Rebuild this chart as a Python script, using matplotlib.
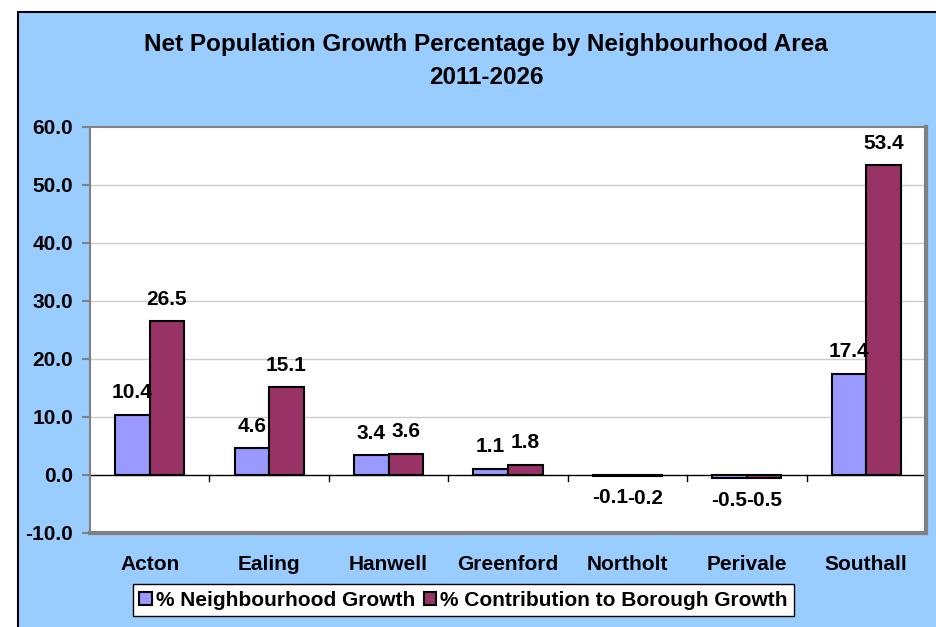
import matplotlib
matplotlib.use("Agg")
import matplotlib.pyplot as plt
import numpy as np
from matplotlib.patches import Rectangle, Patch

plt.rcParams['font.family'] = ['Liberation Sans', 'DejaVu Sans']
plt.rcParams['font.weight'] = 'bold'

# Datos por zona
areas = ['Acton', 'Ealing', 'Hanwell', 'Greenford', 'Northolt', 'Perivale', 'Southall']
neigh_growth = [10.4, 4.6, 3.4, 1.1, -0.1, -0.5, 17.4]
borough_contrib = [26.5, 15.1, 3.6, 1.8, -0.2, -0.5, 53.4]
series_names = ['% Neighbourhood Growth', '% Contribution to Borough Growth']
y_ticks = [-10, 0, 10, 20, 30, 40, 50, 60]

BLUE = '#9999ff'
WINE = '#993366'
BG = '#99ccff'
GREY = '#808080'
FS = 15

fig = plt.figure(figsize=(9.37, 6.27), dpi=100)
fig.patch.set_facecolor('white')

# fondo azul con borde negro (se sale por la derecha y abajo)
fig.patches.append(Rectangle((18 / 937, -0.05), 1.0, 1 - 12 / 627 + 0.05,
                             transform=fig.transFigure, facecolor=BG,
                             edgecolor='black', lw=1.5, zorder=-10))

ax = fig.add_axes([90 / 937, 94 / 627, 836 / 937, 406 / 627])
ax.set_facecolor('white')

x = np.arange(len(areas))
w = 0.29
b1 = ax.bar(x - w / 2, neigh_growth, w, color=BLUE, edgecolor='black', lw=1.5, zorder=3)
b2 = ax.bar(x + w / 2, borough_contrib, w, color=WINE, edgecolor='black', lw=1.5, zorder=3)

for bars, vals in ((b1, neigh_growth), (b2, borough_contrib)):
    for r, v in zip(bars, vals):
        off = 16 if v >= 0 else -16
        ax.annotate(f"{v:.1f}", (r.get_x() + r.get_width() / 2, v),
                    xytext=(0, off), textcoords='offset points',
                    ha='center', va='center', fontsize=FS, fontweight='bold', zorder=4)

ax.set_xlim(-0.5, len(areas) - 0.5)
ax.set_ylim(-10, 60)

# rejilla y eje cero
for t in y_ticks[2:-1]:
    ax.axhline(t, color='#cccccc', lw=1, zorder=1)
ax.axhline(0, color='black', lw=1, zorder=2)

# marcas entre categorías sobre el eje cero
for b in np.arange(0.5, len(areas) - 0.5, 1.0):
    ax.plot([b, b], [0, -1.1], color='black', lw=1, zorder=2)

ax.set_yticks(y_ticks)
ax.set_yticklabels([f"{t:.1f}" for t in y_ticks], fontsize=FS, fontweight='bold')
ax.tick_params(axis='y', direction='out', length=6, width=1.5, color=GREY, pad=6)

ax.set_xticks(x)
ax.set_xticklabels(areas, fontsize=FS, fontweight='bold')
ax.tick_params(axis='x', length=0, pad=16)

for side in ('top', 'left'):
    ax.spines[side].set_color(GREY)
    ax.spines[side].set_linewidth(1.5)
for side in ('right', 'bottom'):
    ax.spines[side].set_color(GREY)
    ax.spines[side].set_linewidth(3)

fig.text(486 / 937, 1 - 45 / 627, 'Net Population Growth Percentage by Neighbourhood Area',
         ha='center', va='center', fontsize=17.5, fontweight='bold')
fig.text(486 / 937, 1 - 77 / 627, '2011-2026',
         ha='center', va='center', fontsize=17.5, fontweight='bold')

handles = [Patch(facecolor=BLUE, edgecolor='black', lw=1.5),
           Patch(facecolor=WINE, edgecolor='black', lw=1.5)]
leg = fig.legend(handles, series_names, loc='center', bbox_to_anchor=(463.5 / 937, 27 / 627),
                 ncol=2, fancybox=False, framealpha=1, edgecolor='black',
                 prop={'size': FS, 'weight': 'bold'}, handlelength=0.6, handleheight=0.6,
                 handletextpad=0.2, columnspacing=0.4, borderpad=0.3, borderaxespad=0)
leg.get_frame().set_linewidth(1)

fig.savefig('out.png', dpi=100, facecolor=fig.get_facecolor())
